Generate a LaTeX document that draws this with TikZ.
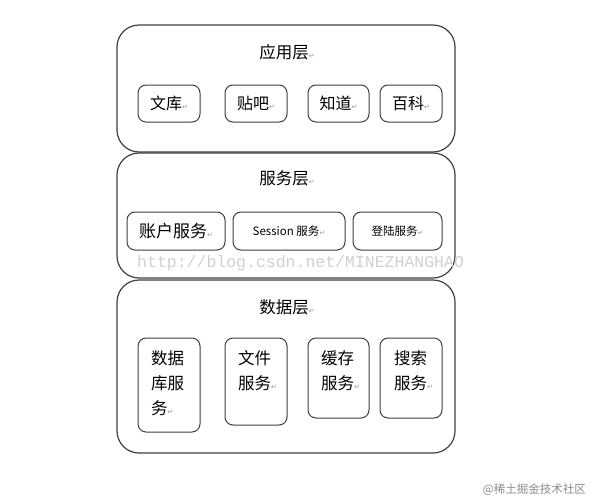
\documentclass[tikz,border=0pt]{standalone}
\usepackage{fontspec}
\newfontfamily\cjk{Noto Sans CJK SC}
\newfontfamily\sym{DejaVu Sans}
\newfontfamily\wmono{Liberation Mono}
\newcommand\ret{{\sym\fontsize{7}{7}\selectfont\textcolor{black!40}{↵}}}
\tikzset{
  layer/.style={draw=black!75, line width=1.2pt, rounded corners=22pt, inner sep=0pt},
  itembox/.style={draw=black!75, line width=1pt, rounded corners=8pt, inner sep=0pt},
  title/.style={font=\cjk\fontsize{16.5}{20}\selectfont, inner sep=0pt},
  lbl/.style={font=\cjk\fontsize{16}{20}\selectfont, inner sep=0pt},
  lblsmall/.style={font=\cjk\fontsize{11.5}{14}\selectfont, inner sep=0pt},
  multi/.style={font=\cjk\fontsize{16.5}{25}\selectfont, inner sep=0pt, align=left, anchor=north west},
  wmark/.style={font=\wmono\fontsize{16.5}{20}\selectfont, text=black!18, inner sep=0pt, anchor=west},
  logo/.style={font=\cjk\fontsize{11.5}{14}\selectfont, text=black!45, inner sep=0pt, anchor=east}
}
\begin{document}
\begin{tikzpicture}[x=1pt, y=-1pt]
\useasboundingbox (0,0) rectangle (591,501);
\fill[white] (0,0) rectangle (591,501);
% layers
\node[layer, minimum width=338pt, minimum height=127pt] (app) at (286,88.5) {};
\node[layer, minimum width=338pt, minimum height=125pt] (svc) at (286,215.5) {};
\node[layer, minimum width=338pt, minimum height=173pt] (data) at (286,366.5) {};
\node[title] (tapp) at (287,52) {应用层\ret};
\node[title] (tsvc) at (287,178) {服务层\ret};
\node[title] (tdata) at (287,307) {数据层\ret};
% row 1
\node[itembox, minimum width=62pt, minimum height=37pt] (wk) at (169,103.5) {};
\node[itembox, minimum width=62pt, minimum height=37pt] (tb) at (256,103.5) {};
\node[itembox, minimum width=61pt, minimum height=37pt] (zd) at (338.5,103.5) {};
\node[itembox, minimum width=62pt, minimum height=37pt] (bk) at (411,103.5) {};
\node[lbl] at (wk) {文库\ret};
\node[lbl] at (tb) {贴吧\ret};
\node[lbl] at (zd) {知道\ret};
\node[lbl] at (bk) {百科\ret};
% row 2
\node[itembox, minimum width=98pt, minimum height=38pt] (zh) at (176,231) {};
\node[itembox, minimum width=112pt, minimum height=38pt] (ss) at (289,231) {};
\node[itembox, minimum width=89pt, minimum height=38pt] (dl) at (397.5,231) {};
\node[lbl, font=\cjk\fontsize{17}{20}\selectfont] at (zh) {账户服务\ret};
\node[lblsmall] at (ss) {Session 服务\ret};
\node[lblsmall] at (dl) {登陆服务\ret};
% row 3
\node[itembox, minimum width=62pt, minimum height=94pt] (db) at (169,385) {};
\node[itembox, minimum width=62pt, minimum height=87pt] (fs) at (256,381.5) {};
\node[itembox, minimum width=61pt, minimum height=80pt] (cs) at (338.5,378) {};
\node[itembox, minimum width=62pt, minimum height=80pt] (ss2) at (411,378) {};
\node[multi] at (151,350) {数据\\库服\\务\ret};
\node[multi] at (238,350) {文件\\服务\ret};
\node[multi] at (321,350) {缓存\\服务\ret};
\node[multi] at (394,350) {搜索\\服务\ret};
% watermarks
\node[wmark] (wm) at (137,263) {http://blog.csdn.net/MINEZHANGHAO};
\node[logo] (lg) at (586,490) {@稀土掘金技术社区};
\end{tikzpicture}
\end{document}
